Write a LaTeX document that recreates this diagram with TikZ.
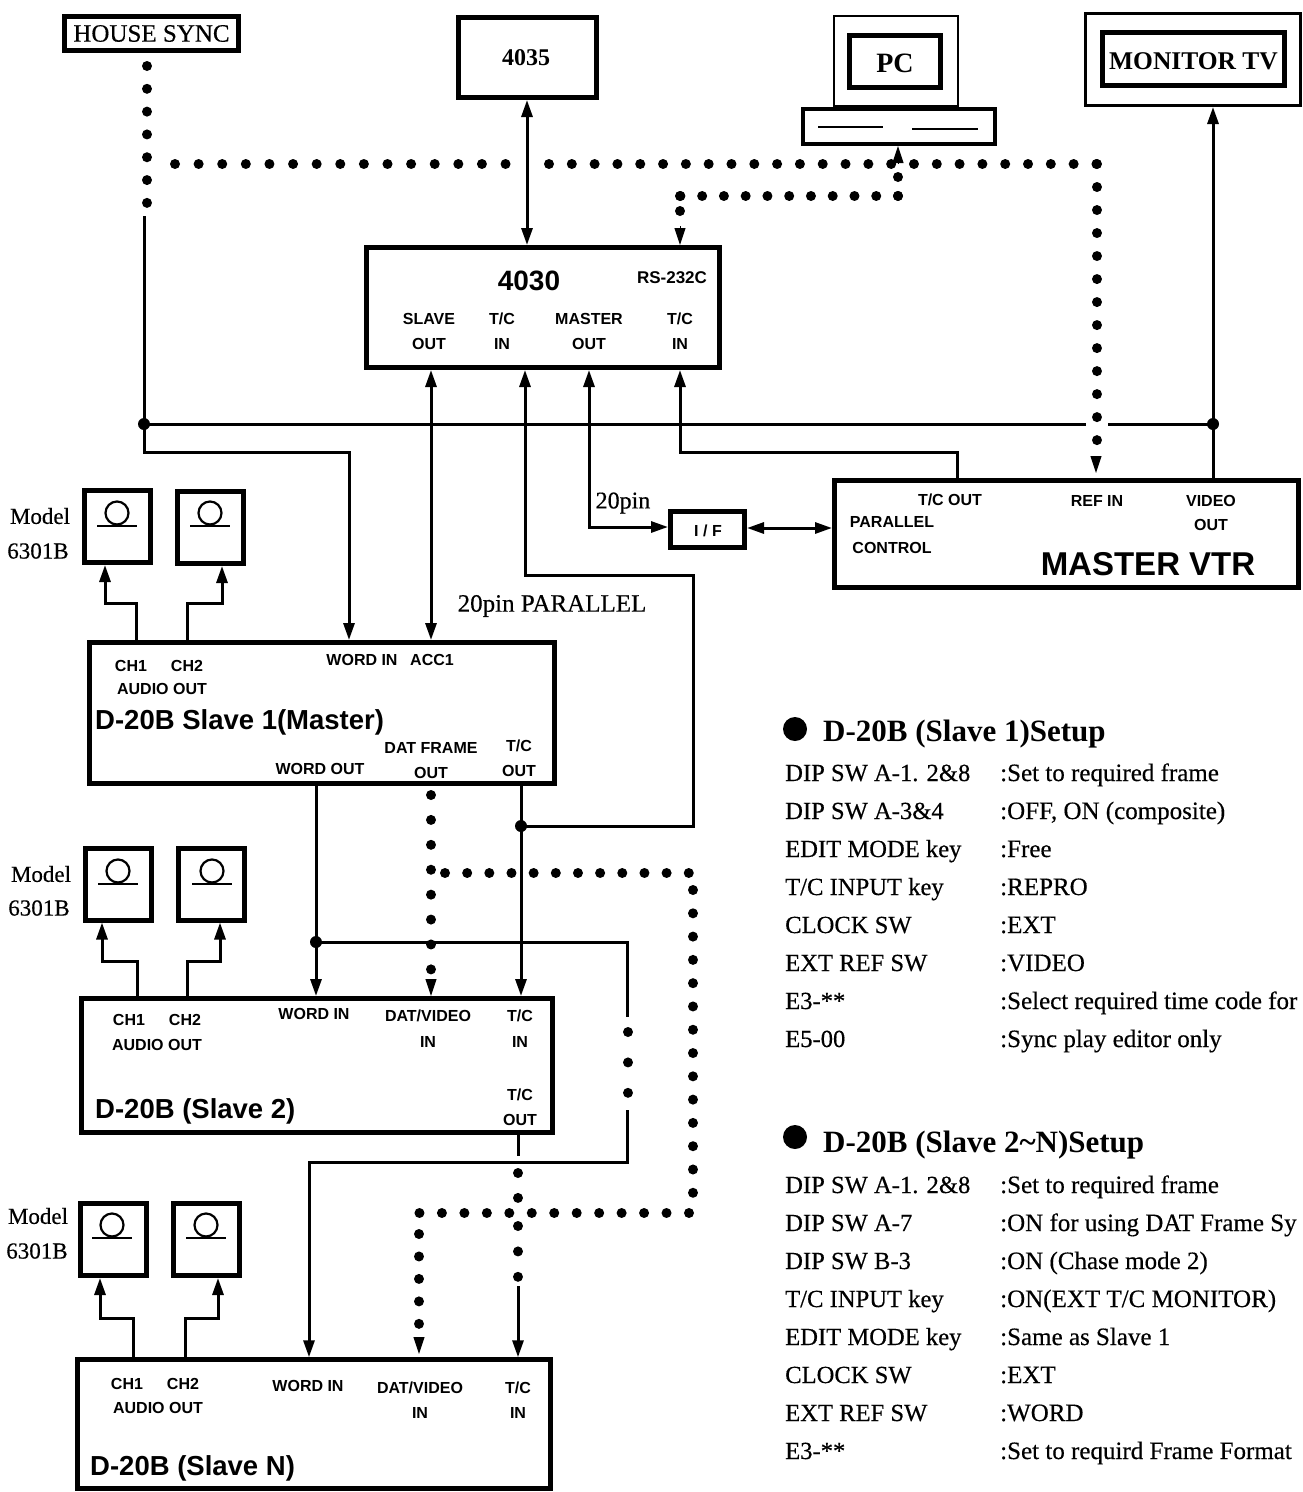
\documentclass[tikz,border=0pt]{standalone}
\usepackage{fontspec}
\usetikzlibrary{arrows.meta}
\setmainfont{Liberation Serif}[FakeBold=0.4,BoldFeatures={FakeBold=0}]
\newfontfamily\sansb{Liberation Sans}[BoldFont=* Bold]
\tikzset{
  x=1pt,y=-1pt,
  box/.style={draw=black,fill=white,rectangle,inner sep=0pt,line width=5pt},
  sz/.style n args={2}{minimum width=#1pt,minimum height=#2pt},
  sol/.style={draw=black,line width=3pt,line join=miter},
  tip/.style={-{Triangle[length=17pt,width=11pt]}},
  rtip/.style={{Triangle[length=17pt,width=11pt]}-},
  both/.style={{Triangle[length=17pt,width=11pt]}-{Triangle[length=17pt,width=11pt]}},
  dots/.style={draw=black,line width=10pt,line cap=round,dash pattern=on 0.01pt off #1pt},
  jn/.style={fill=black,circle,inner sep=0pt,minimum size=12pt},
  reel/.style={draw=black,circle,inner sep=0pt,minimum size=23pt,line width=2.2pt},
  reelbar/.style={draw=black,line width=2.2pt},
  lab/.style={inner sep=0pt,font=\sansb\bfseries\fontsize{16}{16}\selectfont},
  ttl/.style={inner sep=0pt,anchor=base west,font=\sansb\bfseries\fontsize{27.5}{28}\selectfont},
  ser/.style={inner sep=0pt,font=\fontsize{23}{23}\selectfont},
  hd/.style={inner sep=0pt,anchor=base west,font=\bfseries\fontsize{31}{31}\selectfont},
  rowl/.style={inner sep=0pt,anchor=base west,font=\fontsize{24.6}{25}\selectfont},
  rowv/.style={inner sep=0pt,anchor=base west,font=\fontsize{25}{25}\selectfont},
}
\begin{document}
\begin{tikzpicture}
\useasboundingbox (0,0) rectangle (1303,1492);
% device boxes
\node[box,sz={174}{34}] (house) at (151.5,33.5) {};
\node[box,sz={138}{80}] (b4035) at (527.5,57.5) {};
\node[box,line width=2.5pt,sz={124}{90}] (pcmon) at (896,61) {};
\node[box,sz={91}{52}] (pcin) at (895,61.5) {};
\node[box,line width=4pt,sz={192}{35}] (pcbase) at (899,126.5) {};
\node[box,line width=3pt,sz={215}{92}] (tvout) at (1193,59.5) {};
\node[box,sz={182}{53}] (tvin) at (1193.5,59) {};
\node[box,sz={353}{120}] (b4030) at (543,307.5) {};
\node[box,sz={74}{36}] (iface) at (707.5,529.5) {};
\node[box,sz={464}{107}] (vtr) at (1066.5,534) {};
\node[box,sz={465}{141}] (s1) at (322,713) {};
\node[box,sz={471}{134}] (s2) at (317,1065.5) {};
\node[box,sz={473}{129}] (sn) at (314,1424.25) {};
% speakers
\node[box,sz={66}{72}] (sp1a) at (117.5,526.5) {};
\node[box,sz={66}{72}] (sp1b) at (210.5,527.5) {};
\node[box,sz={66}{72}] (sp2a) at (118.5,884) {};
\node[box,sz={66}{72}] (sp2b) at (211.5,884) {};
\node[box,sz={66}{72}] (sp3a) at (113.5,1239.5) {};
\node[box,sz={66}{72}] (sp3b) at (206.5,1239.5) {};
\node[reel] (r1a) at (117,513) {};
\node[reel] (r1b) at (210,513) {};
\node[reel] (r2a) at (118,871) {};
\node[reel] (r2b) at (212,871) {};
\node[reel] (r3a) at (112,1225) {};
\node[reel] (r3b) at (206,1225) {};
\foreach \r in {r1a,r1b,r2a,r2b,r3a,r3b}{\draw[reelbar] (\r.south)+(-20,0) -- +(20,0);}
% PC keyboard slots
\coordinate (kA) at (818,127); \coordinate (kB) at (883,127);
\coordinate (kC) at (912,129); \coordinate (kD) at (978,129);
\draw[reelbar] (kA) -- (kB); \draw[reelbar] (kC) -- (kD);

% junctions
\coordinate (jSync) at (144,424);
\coordinate (jVid) at (1213,424);
\coordinate (jTC) at (521,826);
\coordinate (jWord) at (316,942);

% solid connectors
\coordinate (syncTop) at (144,216);
\draw[sol] (syncTop) -- (jSync);
\draw[sol] (jSync) -- (1086,424);
\draw[sol] (1108,424) -- (jVid);
\draw[sol,tip] (jSync) -- (144,452) -- (349,452) -- (s1.north -| 349,0);
\draw[sol,tip] (vtr.north -| 1213,0) -- (tvout.south -| 1213,0);
\draw[sol,both] (b4035.south -| 527,0) -- (b4030.north -| 527,0);
\draw[sol,both] (b4030.south -| 431,0) -- (s1.north -| 431,0);
\draw[sol,rtip] (b4030.south -| 525,0) -- (525,575) -- (693,575) -- (693,826) -- (jTC);
\draw[sol,both] (b4030.south -| 589,0) -- (589,527) -- (iface.west |- 0,527);
\draw[sol,rtip] (b4030.south -| 680,0) -- (680,452) -- (957,452) -- (vtr.north -| 957,0);
\draw[sol,both] (iface.east |- 0,528) -- (vtr.west |- 0,528);
% audio outs
\draw[sol,tip] (s1.north -| 136,0) -- (136,603) -- (105,603) -- (sp1a.south -| 105,0);
\draw[sol,tip] (s1.north -| 187,0) -- (187,603) -- (222,603) -- (sp1b.south -| 222,0);
\draw[sol,tip] (s2.north -| 137,0) -- (137,961) -- (102,961) -- (sp2a.south -| 102,0);
\draw[sol,tip] (s2.north -| 187,0) -- (187,961) -- (220,961) -- (sp2b.south -| 220,0);
\draw[sol,tip] (sn.north -| 133,0) -- (133,1318) -- (100,1318) -- (sp3a.south -| 100,0);
\draw[sol,tip] (sn.north -| 185,0) -- (185,1318) -- (218,1318) -- (sp3b.south -| 218,0);
% word clock and time code chain
\draw[sol,tip] (s1.south -| 316,0) -- (s2.north -| 316,0);
\draw[sol] (jWord) -- (627,942) -- (627,1017);
\draw[sol,tip] (627,1110) -- (627,1162) -- (309,1162) -- (sn.north -| 309,0);
\draw[sol,tip] (s1.south -| 521,0) -- (s2.north -| 521,0);
\draw[sol] (s2.south -| 518,0) -- (518,1156);
\draw[sol,tip] (518,1286) -- (sn.north -| 518,0);
\node[jn] (jn1) at (jSync) {};
\node[jn] (jn2) at (jVid) {};
\node[jn] (jn3) at (jTC) {};
\node[jn] (jn4) at (jWord) {};

% dotted connectors
\draw[dots=22.8] (147,66) -- (147,203);
\draw[dots=23.6] (175,164) -- (506,164);
\draw[dots=22.8] (549,164) -- (1097,164);
\draw[dots=23] (1097,164) -- (1097,441);
\draw[dots=18.9] (898,177) -- (898,196);
\draw[dots=21.75] (898,196) -- (680,196);
\draw[dots=15] (680,196) -- (680,212);
\draw[dots=24.9] (431,795) -- (431,970);
\draw[dots=22.15] (445,873) -- (689,873);
\draw[dots=23.28] (693,890) -- (693,1193);
\draw[dots=22.45] (689,1213) -- (419,1213);
\draw[dots=22.45] (419,1234) -- (419,1324);
\draw[dots=30.4] (628,1032) -- (628,1093);
\draw[dots=24.9] (518,1173) -- (518,1198);
\draw[dots=25.4] (518,1226) -- (518,1277);
% arrowheads of the dotted runs
\draw[tip,line width=1pt] (898,164) -- (pcbase.south -| 898,0);
\draw[tip,line width=1pt] (680,226) -- (b4030.north -| 680,0);
\coordinate (refTip) at (1096,473);
\draw[tip,line width=1pt] (1096,456) -- (refTip);
\draw[tip,line width=1pt] (431,979) -- (s2.north -| 431,0);
\coordinate (datTip) at (419,1354);
\draw[tip,line width=1pt] (419,1337) -- (datTip);

% titles in the top row
\node[inner sep=0pt,font=\fontsize{25}{25}\selectfont] (tHouse) at (house) {HOUSE SYNC};
\node[inner sep=0pt,font=\bfseries\fontsize{24}{24}\selectfont] (t4035) at (526,58) {4035};
\node[inner sep=0pt,font=\bfseries\fontsize{28}{28}\selectfont] (tPC) at (895,63) {PC};
\node[inner sep=0pt,font=\bfseries\fontsize{25.5}{26}\selectfont] (tTV) at (1193.5,61) {MONITOR TV};
% 4030
\node[inner sep=0pt,font=\sansb\bfseries\fontsize{28}{28}\selectfont] (t4030) at (529,281) {4030};
\node[inner sep=0pt,font=\sansb\bfseries\fontsize{17}{17}\selectfont] (tRS) at (672,278) {RS-232C};
\node[lab] (a1) at (429,319) {SLAVE};
\node[lab] (a2) at (429,344) {OUT};
\node[lab] (a3) at (502,319) {T/C};
\node[lab] (a4) at (502,344) {IN};
\node[lab] (a5) at (589,319) {MASTER};
\node[lab] (a6) at (589,344) {OUT};
\node[lab] (a7) at (680,319) {T/C};
\node[lab] (a8) at (680,344) {IN};
% VTR and interface
\node[lab] (v1) at (950,500) {T/C OUT};
\node[lab] (v2) at (1097,501) {REF IN};
\node[lab] (v3) at (1211,501) {VIDEO};
\node[lab] (v4) at (1211,525) {OUT};
\node[lab] (v5) at (892,522) {PARALLEL};
\node[lab] (v6) at (892,548) {CONTROL};
\node[inner sep=0pt,font=\sansb\bfseries\fontsize{33}{33}\selectfont] (tVTR) at (1148,564) {MASTER VTR};
\node[lab] (tIF) at (708,531) {I / F};
\node[inner sep=0pt,font=\fontsize{24}{24}\selectfont] (t20a) at (623,503) {20pin};
\node[inner sep=0pt,font=\fontsize{25}{25}\selectfont] (t20b) at (552,606) {20pin PARALLEL};
% Model labels
\node[ser] (m1) at (40,516) {Model};
\node[ser] (m2) at (38,551) {6301B};
\node[ser] (m3) at (41,874) {Model};
\node[ser] (m4) at (39,908) {6301B};
\node[ser] (m5) at (38,1216) {Model};
\node[ser] (m6) at (37,1251) {6301B};
% slave 1
\node[lab] (b1) at (131,666) {CH1};
\node[lab] (b2) at (187,666) {CH2};
\node[lab] (b3) at (162,689) {AUDIO OUT};
\node[lab] (b4) at (362,660) {WORD IN};
\node[lab] (b5) at (432,660) {ACC1};
\node[ttl] (b6) at (95,729) {D-20B Slave 1(Master)};
\node[lab] (b7) at (431,748) {DAT FRAME};
\node[lab] (b8) at (431,773) {OUT};
\node[lab] (b9) at (519,746) {T/C};
\node[lab] (b10) at (519,771) {OUT};
\node[lab] (b11) at (320,769) {WORD OUT};
% slave 2
\node[lab] (c1) at (129,1020) {CH1};
\node[lab] (c2) at (185,1020) {CH2};
\node[lab] (c3) at (157,1045) {AUDIO OUT};
\node[lab] (c4) at (314,1014) {WORD IN};
\node[lab] (c5) at (428,1016) {DAT/VIDEO};
\node[lab] (c6) at (428,1042) {IN};
\node[lab] (c7) at (520,1016) {T/C};
\node[lab] (c8) at (520,1042) {IN};
\node[lab] (c9) at (520,1095) {T/C};
\node[lab] (c10) at (520,1120) {OUT};
\node[ttl] (c11) at (95,1118) {D-20B (Slave 2)};
% slave N
\node[lab] (d1) at (127,1384) {CH1};
\node[lab] (d2) at (183,1384) {CH2};
\node[lab] (d3) at (158,1408) {AUDIO OUT};
\node[lab] (d4) at (308,1386) {WORD IN};
\node[lab] (d5) at (420,1388) {DAT/VIDEO};
\node[lab] (d6) at (420,1413) {IN};
\node[lab] (d7) at (518,1388) {T/C};
\node[lab] (d8) at (518,1413) {IN};
\node[ttl] (d9) at (90,1475) {D-20B (Slave N)};

% setup 1
\node[fill=black,circle,inner sep=0pt,minimum size=24pt] (bul1) at (795,729) {};
\node[hd] (h1) at (823,741) {D-20B (Slave 1)Setup};
\node[rowl] (p1) at (785,781) {DIP SW A-1. 2\&8};
\node[rowv] (q1) at (1000,781) {:Set to required frame};
\node[rowl] (p2) at (785,819) {DIP SW A-3\&4};
\node[rowv] (q2) at (1000,819) {:OFF, ON (composite)};
\node[rowl] (p3) at (785,857) {EDIT MODE key};
\node[rowv] (q3) at (1000,857) {:Free};
\node[rowl] (p4) at (785,895) {T/C INPUT key};
\node[rowv] (q4) at (1000,895) {:REPRO};
\node[rowl] (p5) at (785,933) {CLOCK SW};
\node[rowv] (q5) at (1000,933) {:EXT};
\node[rowl] (p6) at (785,971) {EXT REF SW};
\node[rowv] (q6) at (1000,971) {:VIDEO};
\node[rowl] (p7) at (785,1009) {E3-**};
\node[rowv] (q7) at (1000,1009) {:Select required time code for};
\node[rowl] (p8) at (785,1047) {E5-00};
\node[rowv] (q8) at (1000,1047) {:Sync play editor only};
% setup 2
\node[fill=black,circle,inner sep=0pt,minimum size=24pt] (bul2) at (795,1137) {};
\node[hd] (h2) at (823,1152) {D-20B (Slave 2\textasciitilde N)Setup};
\node[rowl] (u1) at (785,1193) {DIP SW A-1. 2\&8};
\node[rowv] (w1) at (1000,1193) {:Set to required frame};
\node[rowl] (u2) at (785,1231) {DIP SW A-7};
\node[rowv] (w2) at (1000,1231) {:ON for using DAT Frame Sy};
\node[rowl] (u3) at (785,1269) {DIP SW B-3};
\node[rowv] (w3) at (1000,1269) {:ON (Chase mode 2)};
\node[rowl] (u4) at (785,1307) {T/C INPUT key};
\node[rowv] (w4) at (1000,1307) {:ON(EXT T/C MONITOR)};
\node[rowl] (u5) at (785,1345) {EDIT MODE key};
\node[rowv] (w5) at (1000,1345) {:Same as Slave 1};
\node[rowl] (u6) at (785,1383) {CLOCK SW};
\node[rowv] (w6) at (1000,1383) {:EXT};
\node[rowl] (u7) at (785,1421) {EXT REF SW};
\node[rowv] (w7) at (1000,1421) {:WORD};
\node[rowl] (u8) at (785,1459) {E3-**};
\node[rowv] (w8) at (1000,1459) {:Set to requird Frame Format};
\end{tikzpicture}
\end{document}
